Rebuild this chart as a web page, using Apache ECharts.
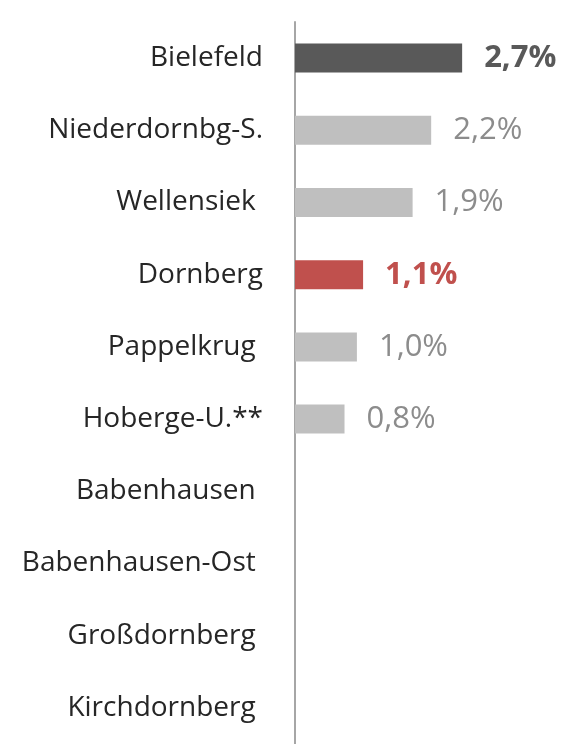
<!DOCTYPE html>
<html>
<head>
<meta charset="utf-8">
<script src="https://cdn.jsdelivr.net/npm/echarts@6/dist/echarts.min.js"></script>
<style>
  html, body { margin: 0; padding: 0; background: #fff; }
  #chart { width: 577px; height: 744px; }
</style>
</head>
<body>
<div id="chart"></div>
<script>
  // Kategorien von oben nach unten
  const categories = [
    "Bielefeld", "Niederdornbg-S.", "Wellensiek ", "Dornberg", "Pappelkrug ",
    "Hoberge-U.**", "Babenhausen ", "Babenhausen-Ost ", "Großdornberg ", "Kirchdornberg "
  ];
  const values = [2.7, 2.2, 1.9, 1.1, 1.0, 0.8, null, null, null, null];
  // Hervorhebung: 0 = normal, 1 = Bielefeld, 2 = Dornberg
  const highlight = [1, 0, 0, 2, 0, 0, 0, 0, 0, 0];

  const barColors = ["#bfbfbf", "#595959", "#c0504d"];
  const labelColors = ["#8c8c8c", "#595959", "#c0504d"];

  const chart = echarts.init(document.getElementById("chart"));

  const data = values.map((v, i) => ({
    value: v,
    itemStyle: { color: barColors[highlight[i]] },
    label: {
      color: labelColors[highlight[i]],
      fontWeight: highlight[i] ? "bold" : "normal"
    }
  }));

  chart.setOption({
    animation: false,
    grid: { left: 295, top: 22, width: 247.6, bottom: 0, containLabel: false },
    xAxis: {
      type: "value",
      min: 0,
      max: 4,
      show: false
    },
    yAxis: {
      type: "category",
      inverse: true,
      data: categories,
      axisLine: { show: true, lineStyle: { color: "#a6a6a6", width: 2 } },
      axisTick: { show: false },
      axisLabel: {
        color: "#262626",
        fontSize: 28,
        fontFamily: "Open Sans",
        margin: 32
      }
    },
    series: [{
      type: "bar",
      data: data,
      barWidth: 29,
      label: {
        show: true,
        position: "right",
        distance: 22,
        fontSize: 31,
        fontFamily: "Open Sans",
        formatter: p => p.value == null ? "" : p.value.toFixed(1).replace(".", ",") + "%"
      }
    }]
  });
</script>
</body>
</html>
